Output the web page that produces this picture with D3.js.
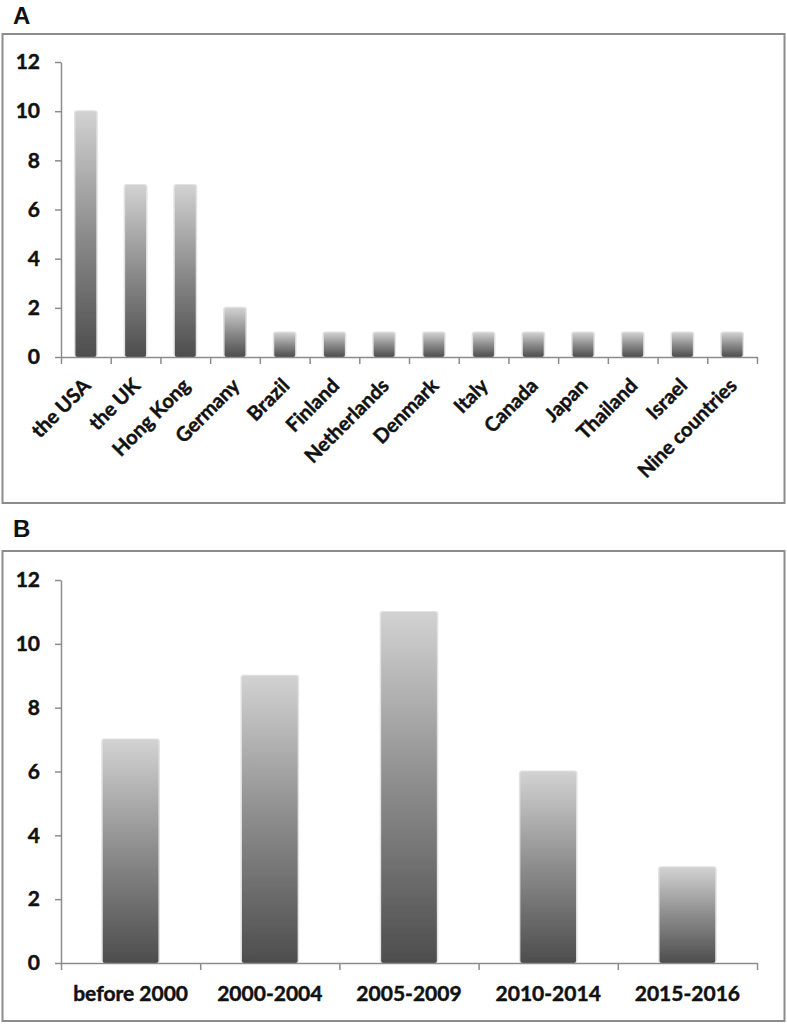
<!DOCTYPE html>
<html><head><meta charset="utf-8">
<script src="https://cdn.jsdelivr.net/npm/d3@7"></script>
<style>
html,body{margin:0;padding:0;background:#fff;}
svg{display:block;}
text{font-family:Lato,"Open Sans",sans-serif;font-weight:bold;fill:#111;}
.heavy{stroke:#111;stroke-width:0.45px;}
</style></head>
<body>
<script>
const countries = ["the USA","the UK","Hong Kong","Germany","Brazil","Finland","Netherlands","Denmark","Italy","Canada","Japan","Thailand","Israel","Nine countries"];
const countryCounts = [10,7,7,2,1,1,1,1,1,1,1,1,1,1];
const periods = ["before 2000","2000-2004","2005-2009","2010-2014","2015-2016"];
const periodCounts = [7,9,11,6,3];
const yTicks = [0,2,4,6,8,10,12];

const W = 787, H = 1024;
const svg = d3.select("body").append("svg").attr("width", W).attr("height", H);

const defs = svg.append("defs");
const grad = defs.append("linearGradient").attr("id","barGrad")
  .attr("x1",0).attr("y1",0).attr("x2",0).attr("y2",1);
grad.append("stop").attr("offset","0%").attr("stop-color","#d2d2d2");
grad.append("stop").attr("offset","50%").attr("stop-color","#8c8c8c");
grad.append("stop").attr("offset","100%").attr("stop-color","#4d4d4d");
const blur = defs.append("filter").attr("id","soft").attr("x","-20%").attr("y","-20%").attr("width","140%").attr("height","140%");
blur.append("feGaussianBlur").attr("stdDeviation",0.6);

function panel(opts){
  const g = svg.append("g");
  g.append("rect").attr("x",opts.frame[0]).attr("y",opts.frame[1])
    .attr("width",opts.frame[2]).attr("height",opts.frame[3])
    .attr("fill","none").attr("stroke","#8c8c8c").attr("stroke-width",2);
  g.append("text").attr("x",opts.letterPos[0]).attr("y",opts.letterPos[1])
    .style("font-family","'Liberation Sans',Arial,sans-serif").style("font-size","24px")
    .text(opts.letter);

  const n = opts.cats.length;
  const xb = d3.scaleBand().domain(opts.cats).range(opts.xr).paddingInner(opts.pad).paddingOuter(opts.pad/2);
  const xl = d3.scaleLinear().domain([0,n]).range(opts.xr);
  const y = d3.scaleLinear().domain([0,12]).range(opts.yr);

  g.append("g").selectAll("rect").data(opts.vals).join("rect")
    .attr("x",(d,i)=>xb(opts.cats[i])-1.5).attr("width",xb.bandwidth()+3)
    .attr("y",d=>y(d)-1).attr("height",d=>y(0)-y(d)+1)
    .attr("rx",3).attr("fill","#e2e2e2");
  g.append("g").selectAll("rect").data(opts.vals).join("rect")
    .attr("x",(d,i)=>xb(opts.cats[i])).attr("width",xb.bandwidth())
    .attr("y",d=>y(d)).attr("height",d=>y(0)-y(d))
    .attr("rx",2).attr("fill","url(#barGrad)").attr("filter","url(#soft)");

  const ya = g.append("g").attr("transform",`translate(${opts.xr[0]},0)`)
    .call(d3.axisLeft(y).tickValues(yTicks).tickSize(6).tickSizeOuter(0).tickPadding(15));
  ya.selectAll("path,line").attr("stroke","#8c8c8c").attr("stroke-width",1.5);
  ya.selectAll("text").attr("class","heavy").style("font-size","21px").style("font-family","Lato,sans-serif").attr("fill","#111");

  const xa = g.append("g").attr("transform",`translate(0,${opts.yr[0]})`)
    .call(d3.axisBottom(xl).tickValues(d3.range(n+1)).tickFormat("").tickSize(7).tickSizeOuter(0));
  xa.selectAll("path,line").attr("stroke","#8c8c8c").attr("stroke-width",1.5);

  const lab = g.append("g").attr("transform",`translate(0,${opts.yr[0]})`)
    .call(d3.axisBottom(xb).tickSize(0).tickPadding(0));
  lab.select(".domain").remove();
  lab.selectAll("text").attr("class","heavy").style("font-size",opts.labelSize).style("font-family","Lato,sans-serif").attr("fill","#111");
  opts.labelFn(lab.selectAll("text"));
}

panel({
  frame:[2.5,34,782,469], letter:"A", letterPos:[13,24],
  cats:countries, vals:countryCounts, xr:[61,757], yr:[357,62], pad:0.58,
  labelSize:"20px",
  labelFn: sel => sel.attr("text-anchor","end").attr("dy",0).attr("y",0)
    .attr("transform","translate(6,30) rotate(-45)")
});

panel({
  frame:[2.5,551,782,470], letter:"B", letterPos:[13,537],
  cats:periods, vals:periodCounts, xr:[61,757], yr:[963,580], pad:0.6,
  labelSize:"21px",
  labelFn: sel => sel.attr("y",38).attr("dy",0)
});
</script>
</body></html>
